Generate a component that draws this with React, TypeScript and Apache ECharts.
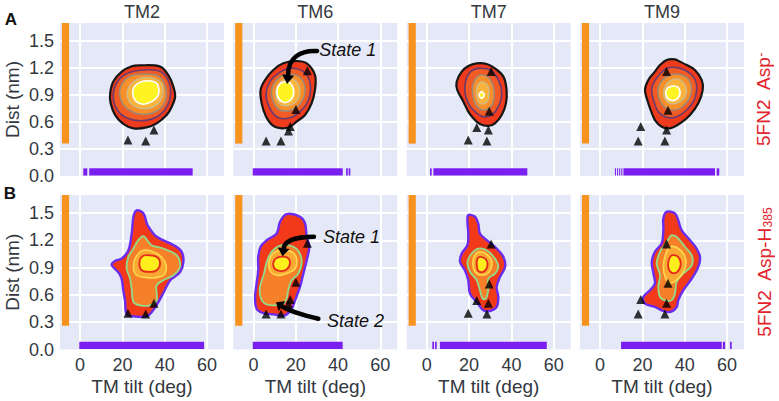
import { useEffect, useRef } from 'react';
import * as echarts from 'echarts';

// ---------- labels ----------
const panelTitles = ['TM2', 'TM6', 'TM7', 'TM9'];
const rowLetters = ['A', 'B'];
const xAxisName = 'TM tilt (deg)';
const yAxisName = 'Dist (nm)';

// ---------- axis ranges ----------
const xRange = [-9.5, 68];
const yRange = [0, 1.7];

// ---------- rugs (marginal distributions) ----------
const orangeRugX = [-8.6, -5.2];
const orangeRugY = [[0.36, 1.7], [0.26, 1.7]];
const purpleRugY = [0.005, 0.085];
const purpleRugA = [
  [[1.5, 3.4], [4.3, 53.2]],
  [[-0.3, 42.2], [43.8, 44.6], [45.0, 45.8]],
  [[1.5, 2.3], [3.1, 47.5]],
  [[7.0, 7.5], [8.0, 8.5], [9.0, 9.5], [10.0, 10.5], [11.0, 54.3], [55.1, 56.3]],
];
const purpleRugB = [
  [[-0.4, 58.6]],
  [[-0.3, 42.2]],
  [[2.6, 3.4], [3.9, 4.7], [6.2, 56.7]],
  [[9.9, 57.5], [58.0, 59.1], [61.4, 62.2]],
];

// ---------- reference structures (triangles) ----------
const refTM2 = [[22.6, 0.40], [31.0, 0.39], [34.9, 0.51]];
const refTM6 = [[6.0, 0.39], [13.0, 0.39], [16.6, 0.50], [17.4, 0.55], [20.1, 0.74], [25.5, 1.17]];
const refTM7 = [[19.6, 0.40], [28.4, 0.39], [23.6, 0.54], [29.1, 0.51], [29.5, 0.72], [30.4, 1.16]];
const refTM9 = [[18.0, 0.39], [30.6, 0.39], [19.2, 0.55], [31.4, 0.51], [32.1, 0.73], [31.4, 1.16]];

// ---------- contour levels (outer -> inner), [tilt deg, dist nm] ----------
const tm2A = [
  [[28.3, 1.23], [37.8, 1.215], [41.7, 1.12], [44.1, 0.99], [44.9, 0.88], [43.3, 0.77], [41.0, 0.68], [36.2, 0.585], [31.4, 0.54], [25.2, 0.53], [20.4, 0.58], [16.5, 0.68], [14.4, 0.81], [14.2, 0.92], [15.7, 1.05], [19.7, 1.16], [24.4, 1.22]],
  [[29.9, 1.178], [38.1, 1.159], [41.7, 1.056], [42.8, 0.918], [41.2, 0.778], [37.0, 0.667], [29.9, 0.615], [22.3, 0.641], [17.6, 0.733], [15.7, 0.874], [17.0, 1.022], [21.7, 1.133]],
  [[30.7, 1.133], [37.4, 1.104], [40.4, 0.985], [40.3, 0.837], [36.2, 0.722], [29.1, 0.685], [22.0, 0.752], [18.9, 0.874], [19.5, 1.011], [23.9, 1.111]],
  [[31.5, 1.096], [38.1, 1.037], [39.0, 0.9], [35.9, 0.785], [29.6, 0.748], [23.9, 0.807], [22.3, 0.937], [25.5, 1.052]],
  [[31.5, 1.059], [36.2, 1.03], [37.1, 0.911], [33.8, 0.826], [29.1, 0.8], [25.5, 0.863], [25.2, 0.974], [28.0, 1.037]],
];
const tm6A = [
  [[25.2, 1.252], [29.1, 1.122], [29.1, 0.956], [27.5, 0.807], [24.4, 0.678], [20.4, 0.604], [17.3, 0.548], [13.4, 0.53], [9.4, 0.556], [6.0, 0.659], [3.9, 0.807], [3.4, 0.956], [5.5, 1.067], [9.4, 1.178], [14.1, 1.252], [20.4, 1.278]],
  [[17.3, 1.196], [23.6, 1.159], [26.8, 1.03], [26.0, 0.844], [22.0, 0.715], [16.5, 0.641], [11.0, 0.659], [7.4, 0.77], [6.0, 0.918], [7.8, 1.048], [11.8, 1.141]],
  [[16.5, 1.133], [22.0, 1.096], [24.4, 0.974], [22.8, 0.826], [18.1, 0.733], [12.6, 0.733], [9.4, 0.826], [8.6, 0.956], [11.3, 1.074]],
  [[16.0, 1.085], [20.4, 1.048], [22.0, 0.937], [20.1, 0.826], [15.7, 0.778], [11.8, 0.815], [10.5, 0.918], [12.3, 1.03]],
  [[14.9, 1.048], [18.1, 1.011], [18.9, 0.9], [16.5, 0.826], [13.4, 0.826], [11.3, 0.9], [11.8, 1.0]],
];
const tm7A = [
  [[23.6, 1.252], [28.3, 1.245], [32.2, 1.196], [36.2, 1.104], [37.7, 0.956], [37.4, 0.807], [35.4, 0.678], [32.2, 0.585], [29.1, 0.556], [25.1, 0.578], [22.0, 0.641], [19.6, 0.715], [17.3, 0.826], [14.4, 0.956], [14.1, 1.048], [16.5, 1.159], [19.6, 1.222]],
  [[24.3, 1.196], [29.9, 1.178], [33.8, 1.067], [35.4, 0.918], [33.8, 0.77], [30.7, 0.678], [26.7, 0.659], [22.8, 0.715], [19.6, 0.807], [18.0, 0.937], [18.5, 1.067], [20.7, 1.159]],
  [[25.1, 1.122], [29.1, 1.096], [31.4, 0.993], [31.8, 0.863], [29.9, 0.763], [26.4, 0.733], [23.2, 0.789], [21.7, 0.9], [22.0, 1.03]],
  [[25.9, 1.048], [28.6, 1.011], [29.5, 0.9], [28.0, 0.815], [25.1, 0.807], [23.6, 0.881], [23.6, 0.985]],
  [[25.9, 0.937], [27.2, 0.9], [25.9, 0.863], [24.7, 0.9]],
];
const tm9A = [
  [[31.5, 1.289], [35.4, 1.296], [37.8, 1.27], [40.9, 1.233], [44.8, 1.178], [48.0, 1.067], [48.5, 0.956], [46.4, 0.807], [42.5, 0.678], [37.8, 0.585], [33.0, 0.53], [29.1, 0.548], [25.9, 0.622], [23.9, 0.733], [22.3, 0.844], [21.2, 0.956], [22.8, 1.067], [25.9, 1.159], [28.3, 1.233]],
  [[31.5, 1.196], [37.8, 1.196], [43.3, 1.122], [45.6, 1.011], [44.8, 0.863], [40.9, 0.733], [36.2, 0.659], [31.5, 0.652], [27.5, 0.715], [25.2, 0.844], [24.4, 0.974], [26.7, 1.085]],
  [[33.0, 1.122], [38.5, 1.122], [42.5, 1.048], [42.8, 0.9], [39.3, 0.778], [34.6, 0.733], [29.9, 0.778], [27.5, 0.9], [28.3, 1.03]],
  [[33.8, 1.067], [37.8, 1.067], [40.6, 0.985], [40.1, 0.881], [36.9, 0.815], [33.0, 0.807], [30.2, 0.881], [30.7, 0.993]],
  [[34.6, 1.0], [36.9, 0.985], [37.8, 0.918], [36.2, 0.852], [33.0, 0.844], [31.1, 0.9], [31.8, 0.974]],
];
const tm2B = [
  [[26.7, 1.53], [29.9, 1.5], [31.5, 1.39], [32.3, 1.35], [36.2, 1.24], [44.1, 1.15], [48.0, 1.075], [48.8, 0.96], [47.2, 0.85], [42.5, 0.76], [39.3, 0.62], [36.2, 0.49], [33.8, 0.41], [31.5, 0.365], [25.2, 0.365], [22.0, 0.39], [21.2, 0.54], [20.4, 0.65], [19.6, 0.78], [18.1, 0.85], [14.9, 0.93], [16.5, 0.975], [19.6, 1.0], [22.8, 1.09], [24.4, 1.28], [25.2, 1.46]],
  [[29.9, 1.247], [33.8, 1.148], [39.3, 1.111], [45.6, 1.038], [47.2, 0.909], [44.1, 0.817], [39.3, 0.762], [36.2, 0.707], [36.2, 0.615], [36.2, 0.541], [33.0, 0.486], [28.3, 0.486], [25.2, 0.523], [24.4, 0.652], [23.6, 0.78], [22.0, 0.891], [22.8, 1.019], [25.2, 1.111], [27.5, 1.203]],
  [[29.9, 1.093], [36.2, 1.056], [40.1, 0.964], [40.1, 0.835], [36.2, 0.791], [31.5, 0.791], [26.7, 0.817], [25.2, 0.909], [26.4, 1.019]],
  [[31.5, 1.038], [36.2, 1.019], [37.8, 0.946], [36.2, 0.872], [33.0, 0.854], [29.1, 0.872], [28.0, 0.953], [29.1, 1.019]],
];
const tm6B = [
  [[15.7, 1.49], [22.0, 1.461], [24.4, 1.387], [25.2, 1.24], [26.4, 1.13], [25.2, 0.983], [23.6, 0.835], [22.0, 0.688], [19.7, 0.541], [18.1, 0.449], [14.9, 0.376], [9.4, 0.387], [4.7, 0.401], [1.5, 0.449], [0.8, 0.578], [1.5, 0.725], [2.3, 0.872], [2.3, 1.019], [3.4, 1.13], [6.3, 1.203], [11.0, 1.277], [12.6, 1.406]],
  [[13.4, 1.148], [18.9, 1.13], [22.0, 1.056], [22.8, 0.946], [21.2, 0.835], [18.1, 0.762], [16.5, 0.652], [15.7, 0.56], [14.1, 0.504], [10.2, 0.486], [5.5, 0.504], [3.4, 0.578], [3.1, 0.688], [5.0, 0.835], [6.3, 0.964], [8.6, 1.075]],
  [[13.4, 1.093], [18.1, 1.075], [20.4, 1.001], [19.7, 0.891], [15.7, 0.835], [11.0, 0.817], [7.8, 0.872], [7.5, 0.983], [9.7, 1.064]],
  [[12.6, 1.019], [16.0, 1.012], [17.3, 0.953], [15.7, 0.88], [12.3, 0.865], [9.7, 0.902], [9.9, 0.983]],
];
const tm7B = [
  [[19.6, 1.479], [22.8, 1.461], [24.3, 1.387], [25.1, 1.277], [28.3, 1.203], [33.0, 1.111], [36.2, 1.019], [37.0, 0.909], [34.6, 0.799], [33.0, 0.688], [33.8, 0.578], [33.0, 0.468], [29.9, 0.424], [26.7, 0.431], [23.6, 0.523], [20.4, 0.615], [19.6, 0.762], [18.0, 0.872], [15.7, 0.964], [16.5, 1.056], [19.2, 1.148], [19.6, 1.277], [19.2, 1.406]],
  [[24.3, 1.111], [28.3, 1.093], [32.2, 1.001], [33.8, 0.909], [32.2, 0.835], [29.1, 0.78], [29.1, 0.67], [28.0, 0.56], [26.4, 0.56], [25.1, 0.652], [23.6, 0.762], [20.4, 0.854], [19.2, 0.964], [21.2, 1.056]],
  [[25.1, 1.075], [28.3, 1.049], [30.7, 0.964], [29.5, 0.854], [25.9, 0.817], [22.8, 0.854], [21.7, 0.946], [22.8, 1.038]],
  [[25.5, 1.019], [28.0, 0.99], [28.6, 0.916], [26.7, 0.854], [24.3, 0.865], [23.6, 0.938], [24.0, 1.001]],
];
const tm9B = [
  [[31.5, 1.516], [35.4, 1.498], [36.9, 1.424], [38.5, 1.314], [42.5, 1.203], [45.6, 1.111], [47.2, 1.019], [46.4, 0.909], [43.3, 0.78], [39.3, 0.652], [36.9, 0.541], [36.2, 0.468], [33.0, 0.412], [29.1, 0.431], [25.9, 0.468], [21.2, 0.504], [20.4, 0.578], [23.6, 0.652], [25.9, 0.725], [25.2, 0.835], [24.4, 0.964], [25.9, 1.075], [29.1, 1.167], [29.9, 1.314], [29.9, 1.442]],
  [[33.8, 1.259], [36.2, 1.24], [40.1, 1.13], [43.3, 1.038], [43.3, 0.927], [39.3, 0.835], [36.2, 0.743], [35.4, 0.615], [33.8, 0.541], [30.7, 0.541], [28.3, 0.578], [27.5, 0.688], [28.3, 0.817], [26.7, 0.946], [28.3, 1.075], [31.1, 1.167], [33.0, 1.24]],
  [[33.0, 1.13], [36.9, 1.111], [40.1, 1.019], [40.1, 0.891], [36.9, 0.78], [33.0, 0.732], [30.7, 0.799], [29.9, 0.927], [31.1, 1.056]],
  [[34.3, 1.038], [36.9, 1.019], [38.1, 0.938], [36.5, 0.854], [33.8, 0.843], [32.2, 0.909], [32.7, 1.001]],
];

// ---------- annotations (TM6 panels) ----------
const arrowsA = [
  { label: 'State 1', text: [31.1, 1.40], path: [[30.1, 1.389], [22.0, 1.40], [16.4, 1.311], [16.4, 1.122]], tip: [15.9, 1.022] },
];
const arrowsB = [
  { label: 'State 1', text: [32.9, 1.236], path: [[28.6, 1.24], [21.1, 1.24], [14.9, 1.203], [14.3, 1.115]], tip: [13.8, 1.027] },
  { label: 'State 2', text: [34.8, 0.309], path: [[30.7, 0.339], [22.0, 0.387], [16.4, 0.431], [13.5, 0.475]], tip: [10.7, 0.519] },
];

// ---------- styles ----------
const FONT = "'Liberation Sans', Arial, Helvetica, sans-serif";
const TEXT = '#333840';
const BG = '#e5e9f7';
const RED_LABEL = '#e2252c';
const stylesA = [
  { fill: '#ee3a1d', stroke: '#161616', w: 2.2 },
  { fill: '#f25b24', stroke: '#6b3a6e', w: 1.6 },
  { fill: '#f7902a', stroke: '#9c8a78', w: 1.5 },
  { fill: '#fab43c', stroke: '#cbbb8c', w: 1.3 },
  { fill: '#fff324', stroke: '#ffffff', w: 1.6 },
];
const stylesB = [
  { fill: '#f23a1b', stroke: '#6a2df0', w: 2.4 },
  { fill: '#f6802a', stroke: '#8fdc8c', w: 1.8 },
  { fill: '#f9a832', stroke: '#fcd84e', w: 1.6 },
  { fill: '#ffef1c', stroke: '#e62a1c', w: 1.8 },
];

const colLeft = [60, 233.3, 406.7, 580];
const rowTop = [23, 195];
const rowH = [153, 154.5];
const panelW = 164;

export default function App() {
  const ref = useRef<HTMLDivElement>(null);
  useEffect(() => {
    const chart = echarts.init(ref.current!, null, { renderer: 'svg' });
    const contours = [[tm2A, tm6A, tm7A, tm9A], [tm2B, tm6B, tm7B, tm9B]];
    const refs = [refTM2, refTM6, refTM7, refTM9];
    const purple = [purpleRugA, purpleRugB];
    const styles = [stylesA, stylesB];
    const arrows = [arrowsA, arrowsB];

    const grids: any[] = [];
    const xAxes: any[] = [];
    const yAxes: any[] = [];
    const series: any[] = [];

    const rectSeries = (idx: number, rects: number[][], color: string) => ({
      type: 'custom', xAxisIndex: idx, yAxisIndex: idx, silent: true, z: 2,
      data: rects.map((_, i) => [i]),
      renderItem: (params: any, api: any) => {
        const r = rects[params.dataIndex];
        const a = api.coord([r[0], r[3]]);
        const b = api.coord([r[1], r[2]]);
        return { type: 'rect', shape: { x: a[0], y: a[1], width: b[0] - a[0], height: b[1] - a[1] }, style: { fill: color } };
      },
    });

    for (let r = 0; r < 2; r++) {
      for (let c = 0; c < 4; c++) {
        const idx = r * 4 + c;
        grids.push({ left: colLeft[c], top: rowTop[r], width: panelW, height: rowH[r], show: true, backgroundColor: BG, borderWidth: 0 });
        xAxes.push({
          type: 'value', gridIndex: idx, min: xRange[0], max: xRange[1], splitNumber: 4,
          axisLine: { show: false }, axisTick: { show: false },
          splitLine: { show: true, showMinLine: false, showMaxLine: false, lineStyle: { color: '#ffffff', width: 2 } },
          axisLabel: {
            show: r === 1, fontSize: 18, color: TEXT, fontFamily: FONT, margin: 6,
            formatter: (v: number) => (Math.abs(v % 20) < 1e-6 ? String(v) : ''),
          },
          name: r === 1 ? xAxisName : '', nameLocation: 'middle', nameGap: 27,
          nameTextStyle: { fontSize: 19, color: TEXT, fontFamily: FONT },
        });
        yAxes.push({
          type: 'value', gridIndex: idx, min: yRange[0], max: yRange[1], interval: 0.3,
          axisLine: { show: false }, axisTick: { show: false },
          splitLine: { show: true, showMinLine: false, showMaxLine: false, lineStyle: { color: '#ffffff', width: 2 } },
          axisLabel: {
            show: c === 0, fontSize: 18, color: TEXT, fontFamily: FONT, margin: 6, showMaxLabel: false,
            formatter: (v: number) => (v > 1.6 ? '' : v.toFixed(1)),
          },
          name: c === 0 ? yAxisName : '', nameLocation: 'middle', nameGap: 38, nameRotate: 90,
          nameTextStyle: { fontSize: 19, color: TEXT, fontFamily: FONT },
        });

        // rugs
        series.push(rectSeries(idx, [[orangeRugX[0], orangeRugX[1], orangeRugY[r][0], orangeRugY[r][1]]], '#f7931e'));
        series.push(rectSeries(idx, purple[r][c].map((s) => [s[0], s[1], purpleRugY[0], purpleRugY[1]]), '#7b1ff0'));

        // contours
        const levels = contours[r][c];
        const st = styles[r];
        series.push({
          type: 'custom', xAxisIndex: idx, yAxisIndex: idx, silent: true, z: 3,
          data: levels.map((_, i) => [i]),
          renderItem: (params: any, api: any) => {
            const lv = levels[params.dataIndex];
            const s = st[params.dataIndex];
            const pts = lv.map((p) => api.coord(p));
            return {
              type: 'polygon', shape: { points: pts, smooth: 0.35 },
              style: { fill: s.fill, stroke: s.stroke, lineWidth: s.w, lineJoin: 'round' },
            };
          },
        });

        // reference triangles
        series.push({
          type: 'scatter', xAxisIndex: idx, yAxisIndex: idx, silent: true, z: 5,
          symbol: 'triangle', symbolSize: 9, itemStyle: { color: '#000000' },
          data: refs[c],
        });

        // annotations
        if (c === 1) {
          const arr = arrows[r];
          series.push({
            type: 'custom', xAxisIndex: idx, yAxisIndex: idx, silent: true, z: 6,
            data: arr.map((_, i) => [i]),
            renderItem: (params: any, api: any) => {
              const a = arr[params.dataIndex];
              const p = a.path.map((q) => api.coord(q));
              const tip = api.coord(a.tip);
              const t = api.coord(a.text);
              const dx = tip[0] - p[3][0];
              const dy = tip[1] - p[3][1];
              const len = Math.hypot(dx, dy) || 1;
              const nx = -dy / len;
              const ny = dx / len;
              const hw = 6;
              return {
                type: 'group',
                children: [
                  {
                    type: 'bezierCurve',
                    shape: { x1: p[0][0], y1: p[0][1], cpx1: p[1][0], cpy1: p[1][1], cpx2: p[2][0], cpy2: p[2][1], x2: p[3][0], y2: p[3][1] },
                    style: { stroke: '#000000', lineWidth: 4.5, fill: 'none', lineCap: 'round' },
                  },
                  {
                    type: 'polygon',
                    shape: { points: [tip, [p[3][0] + nx * hw, p[3][1] + ny * hw], [p[3][0] - nx * hw, p[3][1] - ny * hw]] },
                    style: { fill: '#000000' },
                  },
                  {
                    type: 'text', x: t[0], y: t[1],
                    style: { text: a.label, fontSize: 18, fontStyle: 'italic', fontFamily: FONT, fill: '#111111', align: 'left', verticalAlign: 'middle' },
                  },
                ],
              };
            },
          });
        }
      }
    }

    const graphics: any[] = [];
    panelTitles.forEach((t, c) => {
      graphics.push({
        type: 'text', x: colLeft[c] + panelW / 2, y: 12,
        style: { text: t, fontSize: 18, fontFamily: FONT, fill: TEXT, align: 'center', verticalAlign: 'middle' },
      });
    });
    graphics.push({ type: 'text', x: 11, y: 19, style: { text: rowLetters[0], fontSize: 17, fontWeight: 'bold', fontFamily: FONT, fill: '#111', align: 'center', verticalAlign: 'middle' } });
    graphics.push({ type: 'text', x: 10, y: 193, style: { text: rowLetters[1], fontSize: 17, fontWeight: 'bold', fontFamily: FONT, fill: '#111', align: 'center', verticalAlign: 'middle' } });
    graphics.push({
      type: 'text', x: 763, y: rowTop[0] + rowH[0] / 2, rotation: Math.PI / 2,
      style: {
        text: '{m|5FN2  Asp}{s|-}', align: 'center', verticalAlign: 'middle',
        rich: {
          m: { fontSize: 19, fontFamily: FONT, fill: RED_LABEL },
          s: { fontSize: 13, fontFamily: FONT, fill: RED_LABEL, verticalAlign: 'top' },
        },
      },
    });
    graphics.push({
      type: 'text', x: 764, y: rowTop[1] + rowH[1] / 2, rotation: Math.PI / 2,
      style: {
        text: '{m|5FN2  Asp-H}{s|385}', align: 'center', verticalAlign: 'middle',
        rich: {
          m: { fontSize: 19, fontFamily: FONT, fill: RED_LABEL },
          s: { fontSize: 12, fontFamily: FONT, fill: RED_LABEL, verticalAlign: 'bottom' },
        },
      },
    });

    chart.setOption({
      animation: false,
      grid: grids,
      xAxis: xAxes,
      yAxis: yAxes,
      series,
      graphic: graphics,
    });
    return () => chart.dispose();
  }, []);
  return <div ref={ref} style={{ position: 'absolute', left: 0, top: 0, width: 779, height: 401, background: '#fff' }} />;
}
